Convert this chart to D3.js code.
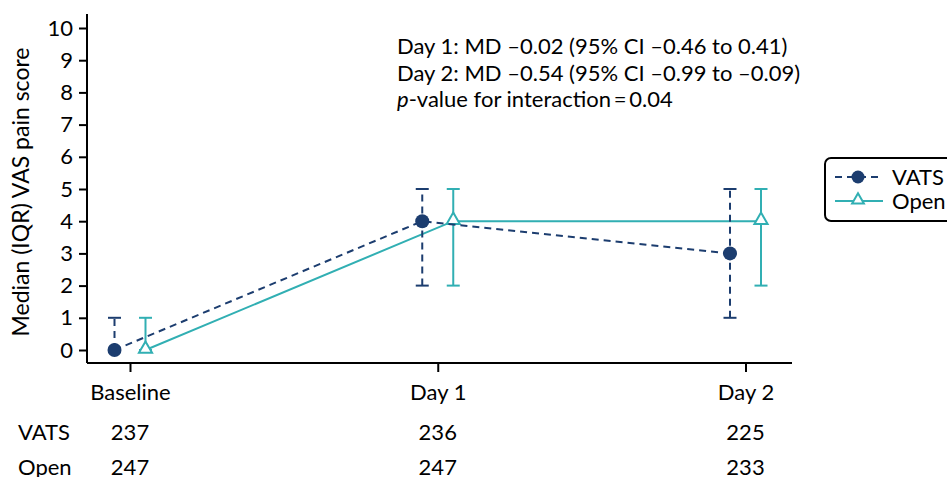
<!DOCTYPE html>
<html>
<head>
<meta charset="utf-8">
<script src="https://cdn.jsdelivr.net/npm/d3@7"></script>
<style>
  html, body { margin: 0; padding: 0; background: #fff; }
  svg { display: block; font-family: Lato, "Open Sans", sans-serif; }
</style>
</head>
<body>
<svg id="chart" width="947" height="477"></svg>
<script>
// Time points and group summaries (median with interquartile range)
const timepoints = ["Baseline", "Day 1", "Day 2"];
const groups = ["VATS", "Open"];
const vatsMedian = [0, 4, 3];
const vatsQ1 = [0, 2, 1];
const vatsQ3 = [1, 5, 5];
const openMedian = [0, 4, 4];
const openQ1 = [0, 2, 2];
const openQ3 = [1, 5, 5];
const vatsN = [237, 236, 225];
const openN = [247, 247, 233];
const yTicks = [0, 1, 2, 3, 4, 5, 6, 7, 8, 9, 10];
const annotation = [
  "Day 1: MD \u20130.02 (95% CI \u20130.46 to 0.41)",
  "Day 2: MD \u20130.54 (95% CI \u20130.99 to \u20130.09)"
];

const navy = "#1c3d6f";
const teal = "#31afb3";
const fs = 22;

const svg = d3.select("#chart");
const plot = { left: 87, right: 792, top: 14, bottom: 363 };

const x = d3.scalePoint().domain(timepoints).range([130, 745.5]);
const y = d3.scaleLinear().domain([0, 10]).range([350, 28]);
const offset = d3.scaleOrdinal().domain(groups).range([-15.5, 15.5]);

// Axes
const yAxis = svg.append("g")
  .attr("transform", `translate(${plot.left},0)`)
  .call(d3.axisLeft(y).tickValues(yTicks).tickSize(8).tickPadding(6));
yAxis.select(".domain").attr("d", `M0,${plot.top}V${plot.bottom}`);

const xAxis = svg.append("g")
  .attr("transform", `translate(0,${plot.bottom})`)
  .call(d3.axisBottom(x).tickSize(9).tickPadding(12));
xAxis.select(".domain").attr("d", `M${plot.left},0H${plot.right}`);

[yAxis, xAxis].forEach(g => {
  g.selectAll(".domain, line").attr("stroke", "#000").attr("stroke-width", 2);
  g.selectAll("text").attr("fill", "#000").attr("font-size", fs)
    .attr("font-family", "Lato, sans-serif");
});

// Y title
svg.append("text")
  .attr("transform", `translate(28.5,192) rotate(-90)`)
  .attr("text-anchor", "middle")
  .attr("font-size", 23)
  .text("Median (IQR) VAS pain score");

function drawSeries(name, med, q1, q3, color, dashed) {
  const g = svg.append("g");
  const pts = timepoints.map((t, i) => ({
    x: x(t) + offset(name), m: med[i], lo: q1[i], hi: q3[i]
  }));
  const dash = dashed ? "7,5" : null;
  // IQR bars
  pts.forEach(p => {
    g.append("line").attr("x1", p.x).attr("x2", p.x)
      .attr("y1", y(p.lo)).attr("y2", y(p.hi))
      .attr("stroke", color).attr("stroke-width", 2).attr("stroke-dasharray", dash);
    [p.lo, p.hi].forEach(v => {
      g.append("line").attr("x1", p.x - 6.5).attr("x2", p.x + 6.5)
        .attr("y1", y(v)).attr("y2", y(v))
        .attr("stroke", color).attr("stroke-width", 2);
    });
  });
  // Connecting line
  g.append("path").datum(pts)
    .attr("d", d3.line().x(d => d.x).y(d => y(d.m)))
    .attr("fill", "none").attr("stroke", color).attr("stroke-width", 2)
    .attr("stroke-dasharray", dash);
  return { g, pts };
}

const open = drawSeries("Open", openMedian, openQ1, openQ3, teal, false);
open.pts.forEach(p => {
  open.g.append("path")
    .attr("d", d3.symbol(d3.symbolTriangle, 75)())
    .attr("transform", `translate(${p.x},${y(p.m) - 1})`)
    .attr("fill", "#fff").attr("stroke", teal).attr("stroke-width", 2);
});
const vats = drawSeries("VATS", vatsMedian, vatsQ1, vatsQ3, navy, true);
vats.pts.forEach(p => {
  vats.g.append("circle").attr("cx", p.x).attr("cy", y(p.m)).attr("r", 7)
    .attr("fill", navy);
});

// Annotation text
const ann = svg.append("text").attr("x", 397).attr("font-size", fs);
annotation.forEach((s, i) => {
  ann.append("tspan").attr("x", 397).attr("y", 54 + i * 26.5).text(s);
});
const p3 = ann.append("tspan").attr("x", 397).attr("y", 107);
p3.append("tspan").attr("font-style", "italic").text("p");
p3.append("tspan").text("-value for interaction\u2009=\u20090.04");

// Legend
const leg = svg.append("g");
leg.append("rect").attr("x", 825).attr("y", 158).attr("width", 140).attr("height", 63)
  .attr("rx", 6).attr("fill", "#fff").attr("stroke", "#000").attr("stroke-width", 2);
const legItems = [
  { name: "VATS", color: navy, dash: "7,5", yy: 177 },
  { name: "Open", color: teal, dash: null, yy: 201 }
];
legItems.forEach(it => {
  leg.append("line").attr("x1", 835).attr("x2", 883).attr("y1", it.yy).attr("y2", it.yy)
    .attr("stroke", it.color).attr("stroke-width", 2).attr("stroke-dasharray", it.dash);
  if (it.name === "VATS") {
    leg.append("circle").attr("cx", 858).attr("cy", it.yy).attr("r", 6.5).attr("fill", navy);
  } else {
    leg.append("path").attr("d", d3.symbol(d3.symbolTriangle, 60)())
      .attr("transform", `translate(858,${it.yy - 1})`)
      .attr("fill", "#fff").attr("stroke", teal).attr("stroke-width", 2);
  }
  leg.append("text").attr("x", 892).attr("y", it.yy + 8).attr("font-size", fs).text(it.name);
});

// Numbers at risk beneath the axis
const counts = [vatsN, openN];
groups.forEach((gname, gi) => {
  const yy = 440 + gi * 35;
  svg.append("text").attr("x", 18).attr("y", yy).attr("font-size", fs).text(gname);
  timepoints.forEach((t, i) => {
    svg.append("text").attr("x", x(t)).attr("y", yy).attr("text-anchor", "middle")
      .attr("font-size", fs).text(counts[gi][i]);
  });
});
</script>
</body>
</html>
